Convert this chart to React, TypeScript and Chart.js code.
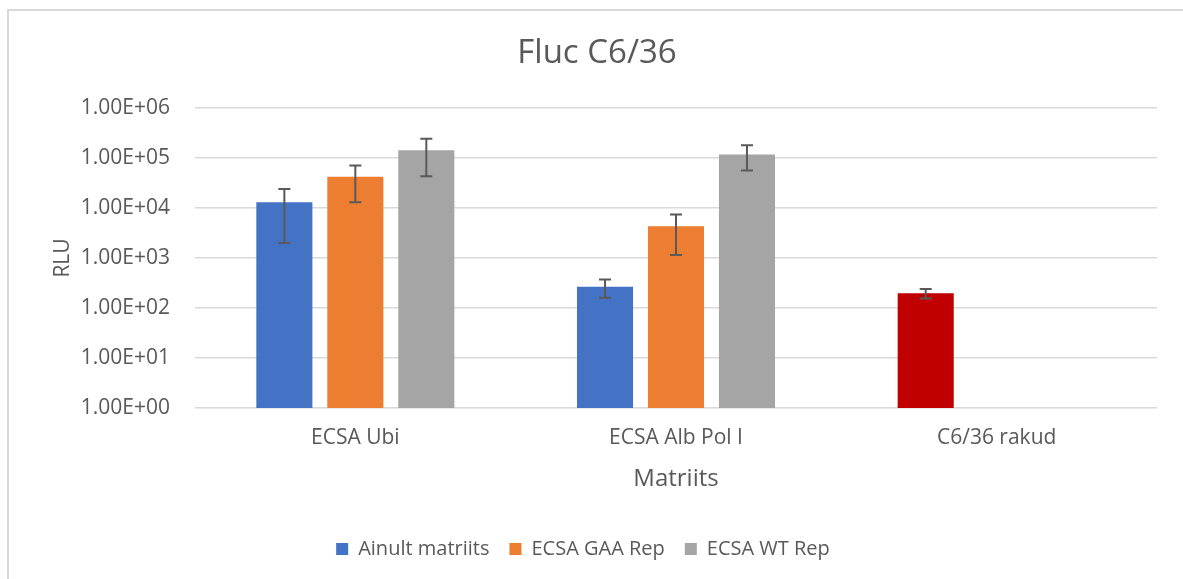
import React, { useEffect, useRef } from "react";
import { Chart, registerables } from "chart.js";

Chart.register(...registerables);

const categories = ["ECSA Ubi", "ECSA Alb Pol I", "C6/36 rakud"];
const seriesNames = ["Ainult matriits", "ECSA GAA Rep", "ECSA WT Rep"];
const seriesColors = ["#4472C4", "#ED7D31", "#A5A5A5"];
const ainultColors = ["#4472C4", "#4472C4", "#C00000"];

const ainultValues = [13000, 265, 197];
const gaaValues = [42000, 4300, null];
const wtValues = [143000, 118000, null];

const ainultErrors = [11000, 105, 42];
const gaaErrors = [29000, 3150, null];
const wtErrors = [100000, 62000, null];

const yTickValues = [1, 10, 100, 1000, 10000, 100000, 1000000];
const yTickLabels = ["1.00E+00", "1.00E+01", "1.00E+02", "1.00E+03", "1.00E+04", "1.00E+05", "1.00E+06"];

const errorSets = [ainultErrors, gaaErrors, wtErrors];

const FONT = "'Open Sans', sans-serif";
const TEXT = "#595959";

const errorBarPlugin = {
  id: "errorBars",
  afterDatasetsDraw(chart: any) {
    const ctx = chart.ctx;
    const yScale = chart.scales.y;
    ctx.save();
    ctx.strokeStyle = "#595959";
    ctx.lineWidth = 2;
    chart.data.datasets.forEach((ds: any, i: number) => {
      const meta = chart.getDatasetMeta(i);
      const errs = errorSets[i];
      meta.data.forEach((bar: any, j: number) => {
        const v = ds.data[j];
        const e = errs[j];
        if (v == null || e == null) return;
        const x = bar.x;
        const yTop = yScale.getPixelForValue(v + e);
        const yBot = yScale.getPixelForValue(Math.max(v - e, 1e-3));
        const cap = 6;
        ctx.beginPath();
        ctx.moveTo(x, yTop);
        ctx.lineTo(x, yBot);
        ctx.moveTo(x - cap, yTop);
        ctx.lineTo(x + cap, yTop);
        ctx.moveTo(x - cap, yBot);
        ctx.lineTo(x + cap, yBot);
        ctx.stroke();
      });
    });
    ctx.restore();
  },
};

const legendShiftPlugin = {
  id: "legendShift",
  afterLayout(chart: any) {
    const lg = chart.legend;
    if (lg) {
      lg.left -= 14;
      lg.right -= 14;
    }
  },
};

export default function App() {
  const canvasRef = useRef<HTMLCanvasElement | null>(null);

  useEffect(() => {
    if (!canvasRef.current) return;
    const chart = new Chart(canvasRef.current, {
      type: "bar",
      data: {
        labels: categories,
        datasets: [
          { label: seriesNames[0], data: ainultValues, backgroundColor: ainultColors },
          { label: seriesNames[1], data: gaaValues, backgroundColor: seriesColors[1] },
          { label: seriesNames[2], data: wtValues, backgroundColor: seriesColors[2] },
        ],
      },
      options: {
        animation: false,
        responsive: true,
        maintainAspectRatio: false,
        datasets: {
          bar: { categoryPercentage: 0.664, barPercentage: 0.79 },
        },
        layout: { padding: { left: 28, right: 26, top: 0, bottom: 10 } },
        plugins: {
          title: {
            display: true,
            text: "Fluc C6/36",
            color: TEXT,
            font: { family: FONT, size: 33, weight: "normal" },
            padding: { top: 23, bottom: 34.4 },
          },
          legend: {
            position: "bottom",
            labels: {
              color: TEXT,
              font: { family: FONT, size: 20 },
              boxWidth: 12,
              boxHeight: 12,
              padding: 20,
              generateLabels: () =>
                seriesNames.map((name, i) => ({
                  text: name,
                  fillStyle: seriesColors[i],
                  strokeStyle: seriesColors[i],
                  lineWidth: 0,
                  hidden: false,
                  datasetIndex: i,
                  fontColor: TEXT,
                })),
            },
          },
          tooltip: { enabled: false },
        },
        scales: {
          x: {
            grid: { display: false, drawTicks: false },
            border: { display: false },
            afterFit: (axis: any) => {
              axis.height = 111;
            },
            ticks: { color: TEXT, font: { family: FONT, size: 21 }, padding: 17 },
            title: {
              display: true,
              text: "Matriits",
              color: TEXT,
              font: { family: FONT, size: 24 },
              padding: { top: 0, bottom: 25.6 },
            },
          },
          y: {
            type: "logarithmic",
            min: 1,
            max: 1000000,
            afterBuildTicks: (axis: any) => {
              axis.ticks = yTickValues.map((v) => ({ value: v }));
            },
            afterFit: (axis: any) => {
              axis.width = 158;
            },
            grid: { color: "#D9D9D9", lineWidth: 1.5, drawTicks: false },
            border: { display: false },
            ticks: {
              color: TEXT,
              font: { family: FONT, size: 21 },
              padding: 25,
              callback: (value: any) => {
                const idx = yTickValues.indexOf(Number(value));
                return idx >= 0 ? yTickLabels[idx] : "";
              },
            },
            title: {
              display: true,
              text: "RLU",
              color: TEXT,
              font: { family: FONT, size: 21 },
              padding: { top: 13.4, bottom: 0 },
            },
          },
        },
      },
      plugins: [errorBarPlugin, legendShiftPlugin],
    });
    return () => chart.destroy();
  }, []);

  return (
    <div
      style={{
        position: "absolute",
        left: 7,
        top: 9,
        width: 1176,
        height: 570,
        boxSizing: "border-box",
        borderLeft: "2px solid #D9D9D9",
        borderTop: "2px solid #D9D9D9",
        background: "#fff",
      }}
    >
      <canvas ref={canvasRef} />
    </div>
  );
}
